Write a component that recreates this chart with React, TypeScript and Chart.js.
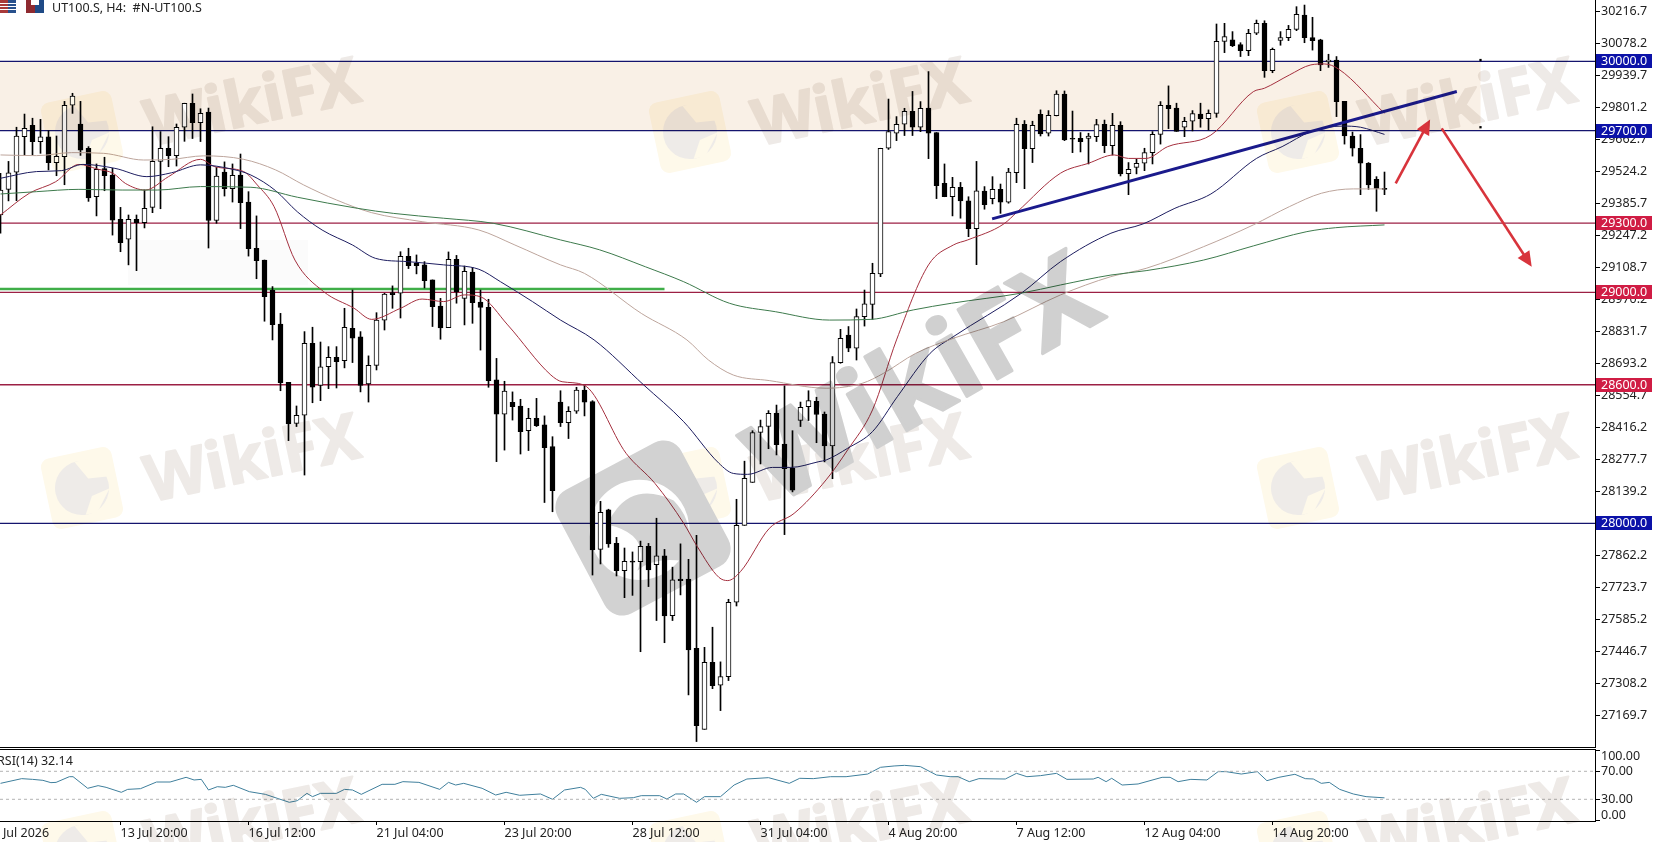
import React, { useEffect, useRef } from "react";
import { Chart, registerables } from "chart.js";

Chart.register(...registerables);

const opens = [29335,29446,29520,29674,29723,29653,29673,29562,29588,29810,29729,29624,29414,29536,29508,29316,29230,29316,29302,29368,29567,29624,29592,29715,29819,29735,29781,29311,29521,29449,29508,29391,29191,29140,29010,28863,28610,28433,28468,28779,28597,28678,28719,28704,28844,28807,28603,28684,28880,28999,28996,29156,29126,29119,29054,28941,28847,29143,28974,29088,28958,28935,28621,28473,28524,28508,28401,28455,28426,28332,28525,28436,28485,28577,28527,27887,28058,27913,27795,27835,27834,27900,27821,27859,27600,27758,27758,27459,27108,27398,27299,27336,27658,27991,28177,28394,28419,28476,28343,28238,28445,28505,28528,28473,28335,28696,28815,28758,28895,28948,29080,29624,29689,29728,29784,29715,29798,29692,29472,29414,29455,29396,29276,29439,29406,29446,29391,29518,29728,29622,29771,29689,29765,29858,29667,29667,29667,29674,29728,29635,29723,29514,29541,29559,29605,29684,29810,29798,29715,29741,29772,29752,29775,30087,30093,30073,30047,30122,30165,29960,30091,30103,30139,30201,30103,30093,29998,30006,29827,29677,29624,29559,29489,29449];
const highs = [29515,29567,29715,29772,29754,29749,29700,29677,29827,29862,29827,29631,29556,29585,29537,29368,29335,29335,29443,29717,29696,29674,29729,29819,29859,29795,29798,29541,29565,29556,29599,29436,29331,29140,29025,28909,28610,28508,28830,28849,28785,28765,28765,28931,29010,28830,28725,28912,28996,29028,29176,29191,29162,29133,29054,28974,29175,29160,29114,29108,29010,28970,28714,28615,28569,28537,28498,28541,28465,28375,28574,28505,28589,28597,28531,28095,28061,27939,27893,27876,27923,27913,28022,27887,27810,27911,27844,27948,27463,27550,27400,27671,28104,28269,28401,28447,28488,28512,28595,28401,28525,28574,28546,28482,28722,28840,28852,28928,29010,29126,29624,29837,29761,29797,29870,29826,29956,29692,29556,29498,29476,29414,29567,29458,29501,29469,29537,29754,29744,29741,29790,29787,29873,29872,29785,29692,29689,29749,29746,29775,29739,29562,29576,29624,29696,29826,29894,29819,29758,29787,29819,29790,30162,30165,30129,30081,30139,30179,30176,30058,30129,30156,30237,30244,30191,30096,30031,30021,29827,29694,29683,29562,29501,29521];
const lows = [29256,29396,29397,29593,29595,29602,29530,29505,29466,29775,29593,29394,29331,29440,29248,29176,29119,29094,29279,29345,29362,29544,29547,29654,29666,29653,29192,29299,29417,29391,29276,29157,29059,28875,28794,28574,28358,28419,28209,28522,28531,28583,28586,28673,28696,28569,28525,28664,28837,28931,28889,29103,29080,29019,28852,28797,28847,28953,28859,28866,28750,28589,28267,28317,28447,28300,28315,28419,28090,28050,28419,28367,28476,28465,27776,27824,27896,27772,27678,27688,27444,27726,27579,27483,27579,27690,27257,27055,27108,27284,27189,27319,27642,27991,28177,28257,28323,28296,27951,28136,28419,28445,28349,28266,28193,28693,28743,28707,28854,28883,29068,29619,29657,29679,29679,29696,29579,29406,29414,29331,29321,29241,29120,29360,29383,29342,29386,29475,29449,29562,29677,29677,29764,29657,29605,29608,29556,29653,29605,29595,29504,29423,29513,29527,29556,29642,29709,29697,29674,29699,29715,29703,29758,30038,30064,30021,30025,30116,29931,29951,30070,30090,30133,30081,30049,29960,29974,29761,29642,29590,29423,29446,29351,29423];
const closes = [29443,29518,29677,29710,29653,29673,29562,29589,29810,29850,29616,29409,29533,29505,29313,29215,29316,29302,29364,29567,29624,29592,29715,29819,29735,29775,29311,29504,29449,29507,29388,29189,29137,28981,28860,28609,28430,28468,28779,28589,28678,28719,28700,28849,28802,28597,28684,28880,28993,28990,29156,29116,29116,29051,28938,28846,29143,29002,29091,28955,28935,28618,28473,28572,28505,28397,28455,28423,28328,28141,28436,28485,28577,28525,27885,28048,27911,27795,27835,27832,27900,27798,27859,27599,27755,27752,27452,27124,27398,27297,27336,27658,27991,28195,28393,28419,28476,28341,28237,28144,28502,28531,28471,28335,28696,28801,28758,28895,28950,29082,29624,29696,29728,29784,29715,29797,29689,29462,29414,29455,29396,29276,29440,29380,29446,29391,29521,29728,29622,29723,29686,29767,29858,29660,29663,29653,29677,29726,29635,29723,29513,29533,29559,29605,29684,29810,29795,29697,29741,29774,29752,29775,30087,30107,30068,30047,30122,30165,29960,30052,30103,30139,30204,30103,30090,29985,30006,29826,29677,29624,29559,29465,29450,29446];

const ma20Idx = [0,3.6,6.9,9.8,12.1,14.1,15.6,18.1,21,25,26.8,30.4,32.1,34.2,36.8,40.4,44.2,46.4,50,52.7,55.4,58,60,63.4,68.8,70.2,72.9,78.2,81.8,85.4,87.1,89.8,90.9,92.5,96.1,99.2,103.2,105.9,109,112,116,119.1,120.9,125.4,127.1,132.5,136,139.2,141,143.2,145.9,151.3,156.6,158,161.1,163.8,165.5,167.3,173];
const ma20Val = [29335,29429,29479,29554,29534,29515,29472,29443,29501,29576,29544,29523,29465,29371,29140,29003,28931,28883,28931,28971,28960,28989,28981,28859,28642,28613,28599,28303,28173,28000,27899,27766,27752,27791,27978,28043,28188,28318,28491,28794,29119,29205,29227,29296,29349,29516,29559,29595,29580,29580,29631,29681,29869,29884,29941,29985,29989,29966,29775];
const ma50Idx = [0,4.5,7.6,10.3,14.3,18.3,21.4,25,29,31.3,34.4,37.1,40.2,44,46.9,50.9,55.4,59.8,62.5,66.5,70,74.2,80.4,85.4,89.8,91.6,93.4,96.5,98.8,102.3,103.2,105.9,109,112.1,116.2,119.1,127.6,132.5,138.8,142.8,146.8,151.3,157,160.2,163.8,167.8,170,173];
const ma50Val = [29494,29523,29527,29554,29537,29501,29518,29552,29533,29508,29440,29349,29270,29205,29147,29133,29119,29100,29046,28960,28880,28794,28599,28440,28260,28216,28212,28242,28242,28267,28274,28325,28397,28548,28736,28808,28996,29133,29256,29296,29364,29426,29580,29631,29696,29720,29715,29684];
const ma100Idx = [0,4.5,8.9,12.9,17.9,21.4,25.4,30.4,34.4,37.9,42,46.4,52.7,59.8,64.3,70,73,80.1,85.8,88.5,91.6,96.1,103.2,107.7,110.4,114.4,119.1,125.4,132.5,138.8,143.2,150.4,156.6,161.1,165.1,169.1,173];
const ma100Val = [29595,29592,29605,29602,29573,29576,29591,29576,29530,29465,29400,29345,29306,29270,29205,29119,29082,28909,28794,28707,28642,28618,28585,28606,28650,28736,28801,28873,28989,29068,29104,29198,29292,29371,29429,29448,29448];
const ma200Idx = [0,4.5,9.8,15.2,19.6,25,31.3,37.1,44.6,49.1,55.4,61.6,70,74.9,80.6,85.4,91.1,96.9,103.6,108.8,114.1,118.9,127.5,132.5,138.8,143.2,150.4,156.6,163.3,166.9,173];
const ma200Val = [29426,29436,29446,29443,29443,29458,29455,29412,29364,29342,29321,29299,29227,29184,29111,29046,28953,28916,28880,28883,28924,28953,28996,29032,29075,29094,29140,29201,29263,29280,29292];

const rsiIdx = [0,2.65,4,5.3,6.3,6.95,8.6,9.07,10.9,12.2,13.2,15.1,15.9,17.5,19.5,21.2,23.2,24.2,25.1,26,27.1,28.1,29.1,31.1,33.1,36.1,37.1,38.3,39,40,42,43,44,45.1,47.7,49.3,50.3,52.3,54.9,56,56.9,57.9,60.2,61.9,63.2,64.9,67.5,69,70.5,72.5,73.1,74.1,75.1,77.4,79.1,80.1,82.4,83.3,84.4,85.4,87,88,90,91.7,93.3,96,98.6,99.9,101.6,103.75,105.7,108.4,110,111.7,113,115,117,118.7,119.7,121.1,122.3,125.6,127,128.3,130,132,133.3,136.6,137.2,138.2,138.9,140.2,142.2,145.2,146.2,147.2,148.8,150.8,152.2,153.2,155.1,157.1,158.3,159.8,161.8,163.1,164.1,165.1,166.1,167.4,169.1,170.7,173];
const rsiVal = [52.8,59.5,58.5,57.1,53.8,54.2,62.3,62.3,45.7,49.5,47.1,40,44.2,45.2,54.7,54.7,61.4,57.6,58.5,43.3,48,47.1,50,40.9,37.1,25.7,28,38.5,33.8,38.5,38.5,44.2,43.3,37.1,51.4,51.4,55.2,54.2,44.2,54.2,50.4,52.8,45.7,36.1,40,35.7,37.6,30,43.3,47.1,44.2,31.4,37.1,31.4,32.3,35.2,35.2,30.4,37.6,37.6,25.7,33.8,33.8,50.4,59,60.9,52.8,60,59.5,62.3,62.3,66.1,75.7,77.6,78.5,76.6,64.7,62.3,62.3,55.2,59.5,59,67.1,62.3,63.8,67.1,58.5,59,61.4,55.2,60,50.4,51.9,61.4,61.4,55.2,58.5,57.6,69.5,69.5,66.1,69.5,56.6,61.4,65.7,59.5,59,52.8,54.2,44.2,37.6,33.8,32.1];

const priceTicks = [30216.7,30078.2,29939.7,29801.2,29662.7,29524.2,29385.7,29247.2,29108.7,28970.2,28831.7,28693.2,28554.7,28416.2,28277.7,28139.2,28000.7,27862.2,27723.7,27585.2,27446.7,27308.2,27169.7];
const levels = [30000, 29700, 29300, 29000, 28600, 28000];
const levelKinds = ["blue", "blue", "red", "red", "red", "blue"];
const rsiTicks = [0, 30, 70, 100];
const rsiLevels = [30, 70];
const timeTicks = [-1, 15, 31, 47, 63, 79, 95, 111, 127, 143, 159];
const timeLabels = ["9 Jul 2026","13 Jul 20:00","16 Jul 12:00","21 Jul 04:00","23 Jul 20:00","28 Jul 12:00","31 Jul 04:00","4 Aug 20:00","7 Aug 12:00","12 Aug 04:00","14 Aug 20:00"];
const zoneRange = [29700, 30000];
const zoneEnd = 185;
const anchorPoints = [{ x: 185, y: 30006 }, { x: 185, y: 29715 }];
const supportLine = { price: 29015, end: 83 };
const trendLine = [{ x: 123.95, y: 29318 }, { x: 182.04, y: 29870 }];
const arrows = [
  [{ x: 174.4, y: 29472 }, { x: 178.7, y: 29749 }],
  [{ x: 180.15, y: 29710 }, { x: 191.4, y: 29111 }],
];

const X_MIN = -0.0625;
const X_MAX = 199.3125;
const FONT = "12.5px 'Noto Sans'";
const BLUE = "#14146e";
const RED = "#9c2044";

const pairs = (xs: number[], ys: number[]) => xs.map((x, i) => ({ x, y: ys[i] }));
const maLine = (label: string, xs: number[], ys: number[], color: string) => ({
  type: "line" as const,
  label,
  data: pairs(xs, ys),
  borderColor: color,
  borderWidth: 1,
  pointRadius: 0,
  cubicInterpolationMode: "monotone" as const,
  order: 1,
});

const decorPlugin = {
  id: "decor",
  beforeDatasetsDraw(chart: any) {
    const { ctx, scales, chartArea } = chart;
    const x1 = scales.x.getPixelForValue(zoneEnd);
    const yTop = scales.y.getPixelForValue(zoneRange[1]);
    const yBot = scales.y.getPixelForValue(zoneRange[0]);
    ctx.save();
    ctx.fillStyle = "#f9f0e6";
    ctx.fillRect(chartArea.left, yTop, x1 - chartArea.left, yBot - yTop);
    ctx.restore();
  },
  afterDraw(chart: any) {
    const { ctx, scales, chartArea } = chart;
    ctx.save();
    // arrows
    for (const a of arrows) {
      const x0 = scales.x.getPixelForValue(a[0].x);
      const y0 = scales.y.getPixelForValue(a[0].y);
      const x1 = scales.x.getPixelForValue(a[1].x);
      const y1 = scales.y.getPixelForValue(a[1].y);
      const ang = Math.atan2(y1 - y0, x1 - x0);
      ctx.strokeStyle = "#d8343c";
      ctx.fillStyle = "#d8343c";
      ctx.lineWidth = 2.6;
      ctx.beginPath();
      ctx.moveTo(x0, y0);
      ctx.lineTo(x1 - 8 * Math.cos(ang), y1 - 8 * Math.sin(ang));
      ctx.stroke();
      ctx.beginPath();
      ctx.moveTo(x1, y1);
      ctx.lineTo(x1 - 15 * Math.cos(ang) + 7 * Math.sin(ang), y1 - 15 * Math.sin(ang) - 7 * Math.cos(ang));
      ctx.lineTo(x1 - 15 * Math.cos(ang) - 7 * Math.sin(ang), y1 - 15 * Math.sin(ang) + 7 * Math.cos(ang));
      ctx.closePath();
      ctx.fill();
    }
    // price tags
    ctx.font = FONT;
    ctx.textBaseline = "middle";
    ctx.textAlign = "left";
    levels.forEach((lv, i) => {
      const y = Math.round(scales.y.getPixelForValue(lv));
      ctx.fillStyle = levelKinds[i] === "blue" ? "#0c12a8" : "#d01c44";
      ctx.fillRect(chartArea.right + 1, y - 7, 56, 14);
      ctx.fillStyle = "#ffffff";
      ctx.fillText(lv.toFixed(1), chartArea.right + 6, y);
    });
    // bottom border
    ctx.fillStyle = "#000";
    ctx.fillRect(0, chartArea.bottom, chartArea.right + 1, 1);
    // header
    ctx.fillStyle = "#222";
    ctx.fillText("UT100.S, H4:  #N-UT100.S", 52, 8);
    ctx.fillStyle = "#a83a3a";
    ctx.fillRect(0, 0, 8, 13);
    ctx.fillStyle = "#28508c";
    ctx.fillRect(8, 0, 8, 13);
    ctx.fillStyle = "#ffffff";
    ctx.fillRect(0, 3, 16, 1);
    ctx.fillRect(0, 6, 16, 1);
    ctx.fillRect(0, 9, 16, 1);
    ctx.fillStyle = "#8e2a30";
    ctx.fillRect(26, 0, 9, 13);
    ctx.fillStyle = "#1f4a86";
    ctx.fillRect(35, 0, 9, 13);
    ctx.fillStyle = "#ffffff";
    ctx.fillRect(31, 0, 8, 5);
    ctx.restore();
  },
};

const rsiPlugin = {
  id: "rsiDecor",
  afterDraw(chart: any) {
    const { ctx, chartArea, scales } = chart;
    ctx.save();
    ctx.fillStyle = "#000";
    ctx.fillRect(0, chartArea.top, chartArea.right, 1);
    ctx.font = FONT;
    ctx.fillStyle = "#222";
    ctx.textBaseline = "middle";
    ctx.fillText("RSI(14) 32.14", -3, 13);
    // the end labels of the pane sit inside it, away from their tick marks
    const lx = chartArea.right + 6;
    ctx.fillText("100.00", lx, scales.y.getPixelForValue(100) + 6);
    ctx.fillText("0.00", lx, scales.y.getPixelForValue(0) - 5);
    ctx.restore();
  },
};

function WatermarkLogo({ x, y }: { x: number; y: number }) {
  return (
    <g transform={`translate(${x} ${y}) rotate(-12)`}>
      <rect x={-36} y={-36} width={72} height={72} rx={9} fill="#fef9ea" />
      <circle r={27} fill="#eeebe8" />
      <path d="M-2 -27 L8 -8 L27 -6 L27 -14 L12 -27 Z M27 6 L8 10 L-2 27 L10 27 Z" fill="#fef9ea" />
    </g>
  );
}

function Watermarks() {
  const cols = [252, 860, 1468];
  const rows = [102, 458, 822];
  const text: React.CSSProperties = { fontFamily: "'Noto Sans'", fontWeight: 700, strokeLinejoin: "round" };
  return (
    <svg
      width={1662}
      height={842}
      style={{ position: "absolute", left: 0, top: 0, mixBlendMode: "multiply", pointerEvents: "none" }}
    >
      <rect x={128} y={240} width={180} height={45} fill="#fbfbfb" />
      {rows.map((ry) =>
        cols.map((cx) => (
          <g key={`${cx}-${ry}`}>
            <WatermarkLogo x={cx - 170} y={ry + 30} />
            <text
              x={cx}
              y={ry + 22}
              fontSize={64}
              textAnchor="middle"
              fill="#eeeae7"
              stroke="#eeeae7"
              strokeWidth={2}
              style={text}
              transform={`rotate(-12 ${cx} ${ry})`}
            >
              WikiFX
            </text>
          </g>
        ))
      )}
      <g transform="translate(643 528) rotate(-28)">
        <rect x={-70} y={-70} width={140} height={140} rx={20} fill="#d2d2d2" />
        <circle cx={-4} r={50} fill="#ffffff" />
        <path d="M-30 -20 Q10 -50 40 -10 Q50 25 20 48 Q-5 30 -25 35 Q5 10 -30 -20 Z" fill="#d2d2d2" />
      </g>
      <text
        x={922}
        y={416}
        fontSize={112}
        textAnchor="middle"
        fill="#d0d0d0"
        stroke="#d0d0d0"
        strokeWidth={3}
        style={text}
        transform="rotate(-29.6 922 376)"
      >
        WikiFX
      </text>
    </svg>
  );
}

export default function App() {
  const mainRef = useRef<HTMLCanvasElement | null>(null);
  const rsiRef = useRef<HTMLCanvasElement | null>(null);

  useEffect(() => {
    const levelSets = levels.map((lv, i) => ({
      type: "line" as const,
      label: `level ${lv}`,
      data: [{ x: X_MIN, y: lv }, { x: X_MAX, y: lv }],
      borderColor: levelKinds[i] === "blue" ? BLUE : RED,
      borderWidth: 1.3,
      pointRadius: 0,
      order: 5,
    }));

    const main = new Chart(mainRef.current as HTMLCanvasElement, {
      type: "bar",
      data: {
        datasets: [
          {
            type: "bar",
            label: "bodies",
            data: closes.map((c, i) => ({ x: i, y: [Math.min(opens[i], c), Math.max(opens[i], c)] })),
            backgroundColor: closes.map((c, i) => (c >= opens[i] ? "#ffffff" : "#000000")),
            borderColor: "#000000",
            borderWidth: 1,
            borderSkipped: false,
            barThickness: 5,
            minBarLength: 1,
            grouped: false,
            order: 2,
          },
          {
            type: "bar",
            label: "wicks",
            data: highs.map((h, i) => ({ x: i, y: [lows[i], h] })),
            backgroundColor: "#000000",
            borderWidth: 0,
            barThickness: 1,
            grouped: false,
            order: 3,
          },
          ...levelSets,
          {
            type: "line",
            label: "support",
            data: [{ x: X_MIN, y: supportLine.price }, { x: supportLine.end, y: supportLine.price }],
            borderColor: "#3fae48",
            borderWidth: 2.5,
            pointRadius: 0,
            order: 4,
          },
          maLine("MA200", ma200Idx, ma200Val, "#3d7a4c"),
          maLine("MA100", ma100Idx, ma100Val, "#bda59c"),
          maLine("MA50", ma50Idx, ma50Val, "#1d1d60"),
          maLine("MA20", ma20Idx, ma20Val, "#a5303f"),
          {
            type: "line",
            label: "trend",
            data: trendLine,
            borderColor: "#1a1a8c",
            borderWidth: 3,
            pointRadius: 0,
            order: 0,
          },
          {
            type: "line",
            label: "anchors",
            data: anchorPoints,
            showLine: false,
            pointStyle: "rect",
            pointRadius: 1.6,
            pointBackgroundColor: "#000",
            pointBorderWidth: 0,
            order: 0,
            clip: false,
          },
        ] as any,
      },
      options: {
        animation: false,
        responsive: false,
        devicePixelRatio: 1,
        layout: { autoPadding: false, padding: { left: 0, right: 0, top: 0, bottom: 1 } },
        plugins: { legend: { display: false }, tooltip: { enabled: false } },
        scales: {
          x: { type: "linear", display: false, min: X_MIN, max: X_MAX, offset: false, grid: { display: false } },
          y: {
            type: "linear",
            position: "right",
            min: 27031.4,
            max: 30265.9,
            afterBuildTicks: (s: any) => {
              s.ticks = priceTicks.map((value) => ({ value }));
            },
            afterFit: (s: any) => {
              s.width = 67;
              s.paddingTop = 0;
              s.paddingBottom = 0;
            },
            grid: { drawOnChartArea: false, drawTicks: true, tickLength: 5, color: "#000" },
            border: { color: "#000", width: 1 },
            ticks: {
              autoSkip: false,
              padding: 1,
              color: "#222",
              font: { family: "'Noto Sans'", size: 12.5 },
              callback: (v: any) => Number(v).toFixed(1),
            },
          },
        },
      } as any,
      plugins: [decorPlugin],
    });

    const rsi = new Chart(rsiRef.current as HTMLCanvasElement, {
      type: "line",
      data: {
        datasets: [
          ...rsiLevels.map((lv) => ({
            label: `RSI ${lv}`,
            data: [{ x: X_MIN, y: lv }, { x: X_MAX, y: lv }],
            borderColor: "#b4b4b4",
            borderWidth: 1,
            borderDash: [3, 3],
            pointRadius: 0,
          })),
          {
            label: "RSI(14)",
            data: pairs(rsiIdx, rsiVal),
            borderColor: "#3f7f9c",
            borderWidth: 1,
            pointRadius: 0,
          },
        ],
      },
      options: {
        animation: false,
        responsive: false,
        devicePixelRatio: 1,
        layout: { autoPadding: false, padding: { left: 0, right: 0, top: 1, bottom: 0 } },
        plugins: { legend: { display: false }, tooltip: { enabled: false } },
        scales: {
          x: {
            type: "linear",
            min: X_MIN,
            max: X_MAX,
            afterBuildTicks: (s: any) => {
              s.ticks = timeTicks.map((value) => ({ value }));
            },
            afterFit: (s: any) => {
              s.height = 21;
              s.paddingLeft = 0;
              s.paddingRight = 0;
            },
            grid: { drawOnChartArea: false, drawTicks: true, tickLength: 4, color: "#000" },
            border: { color: "#000", width: 1 },
            ticks: {
              autoSkip: false,
              maxRotation: 0,
              minRotation: 0,
              align: "start",
              padding: 1,
              color: "#222",
              font: { family: "'Noto Sans'", size: 12.5 },
              callback: (v: any) => timeLabels[timeTicks.indexOf(Number(v))] ?? "",
            },
          },
          y: {
            type: "linear",
            position: "right",
            min: -1,
            max: 101.86,
            afterBuildTicks: (s: any) => {
              s.ticks = rsiTicks.map((value) => ({ value }));
            },
            afterFit: (s: any) => {
              s.width = 67;
              s.paddingTop = 0;
              s.paddingBottom = 0;
            },
            grid: { drawOnChartArea: false, drawTicks: true, tickLength: 5, color: "#000" },
            border: { color: "#000", width: 1 },
            ticks: {
              autoSkip: false,
              padding: 1,
              color: "#222",
              font: { family: "'Noto Sans'", size: 12.5 },
              callback: (v: any) => (Number(v) === 0 || Number(v) === 100 ? "" : Number(v).toFixed(2)),
            },
          },
        },
      } as any,
      plugins: [rsiPlugin],
    });

    return () => {
      main.destroy();
      rsi.destroy();
    };
  }, []);

  return (
    <div style={{ position: "absolute", left: 0, top: 0, width: 1662, height: 842, overflow: "hidden", background: "#fff" }}>
      <canvas ref={mainRef} width={1662} height={748} style={{ position: "absolute", left: 0, top: 0 }} />
      <canvas ref={rsiRef} width={1662} height={94} style={{ position: "absolute", left: 0, top: 748 }} />
      <Watermarks />
    </div>
  );
}
